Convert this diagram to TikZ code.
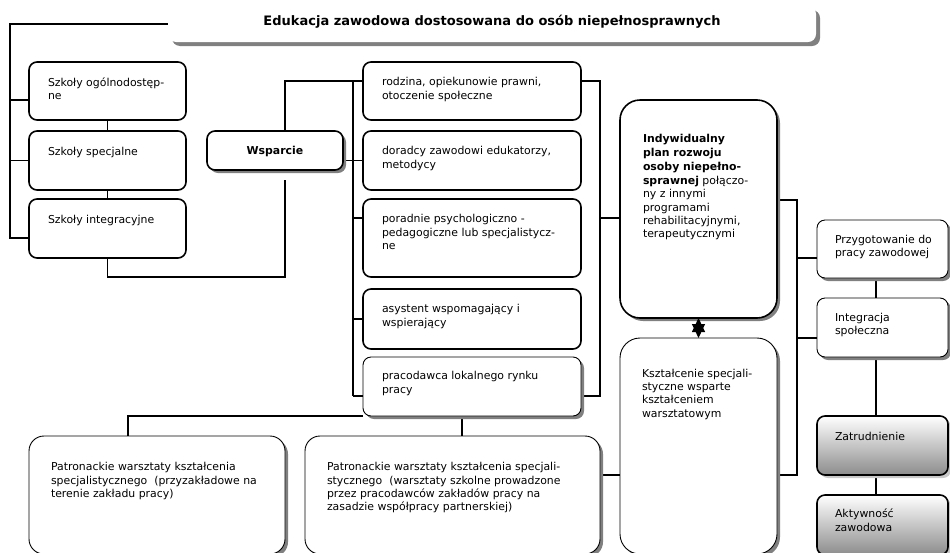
\documentclass[tikz,border=0pt]{standalone}
\usepackage{fontspec}
\setmainfont{DejaVu Sans}
\usetikzlibrary{shadows,calc,arrows.meta}
\pgfdeclarelayer{bg}
\pgfsetlayers{bg,main}
\definecolor{shd}{RGB}{128,128,128}
\definecolor{shdlight}{RGB}{200,200,200}
\definecolor{gradbot}{RGB}{140,140,140}
\tikzset{
  boxbase/.style={rectangle, inner sep=0pt, outer sep=0pt, fill=white, anchor=north west},
  thickbox/.style={boxbase, draw=black, line width=1.6pt, rounded corners=8pt},
  thinbox/.style={boxbase, draw=black, line width=0.9pt, rounded corners=#1,
    drop shadow={shadow xshift=3pt, shadow yshift=-3pt, fill=shd, opacity=1}},
  thinbox/.default=8pt,
  thickshbox/.style={boxbase, draw=black, line width=1.6pt, rounded corners=#1,
    drop shadow={shadow xshift=3pt, shadow yshift=-3pt, fill=shd, opacity=1}},
  thickshbox/.default=8pt,
  gradbox/.style={boxbase, draw=black, line width=1.6pt, rounded corners=8pt,
    top color=white, bottom color=gradbot,
    drop shadow={shadow xshift=3pt, shadow yshift=-3pt, fill=shdlight, opacity=1}},
  titlebox/.style={boxbase, draw=none, rounded corners=8pt,
    drop shadow={shadow xshift=4pt, shadow yshift=-4pt, fill=shd, opacity=1}},
  txt/.style={inner sep=0pt, outer sep=0pt, align=left, anchor=north west, yshift=-2.5pt,
    font=\fontsize{10.9}{13.3}\selectfont, execute at begin node=\strut},
  conn/.style={draw=black, line width=1.3pt},
  startip/.style={draw=black, line width=1pt,
    {Triangle[length=14pt,width=13pt]}-{Triangle[length=14pt,width=13pt]}},
}
\begin{document}
\begin{tikzpicture}[x=1pt,y=-1pt]
\useasboundingbox (0,0) rectangle (950,552);

% title
\node[titlebox, minimum width=648, minimum height=36] (title) at (168,6) {};
\node[inner sep=0pt, anchor=base, font=\fontsize{13}{15}\selectfont\bfseries] (titlet) at (492,25)
  {Edukacja zawodowa dostosowana do osób niepełnosprawnych};

% left column
\node[thickbox, minimum width=157, minimum height=58] (b1) at (29,62) {};
\node[thickbox, minimum width=157, minimum height=59] (b2) at (29,131) {};
\node[thickbox, minimum width=157, minimum height=59] (b3) at (29,199) {};
\node[txt] (b1t) at ($(b1.north west)+(19,13)$) {Szkoły ogólnodostęp-\\ne};
\node[txt] (b2t) at ($(b2.north west)+(19,13)$) {Szkoły specjalne};
\node[txt] (b3t) at ($(b3.north west)+(19,13)$) {Szkoły integracyjne};

% Wsparcie
\node[thickshbox, minimum width=136, minimum height=39] (wsp) at (207,131) {};
\node[inner sep=0pt, anchor=base, font=\fontsize{10.9}{13.3}\selectfont\bfseries] (wspt)
  at ($(wsp.center)+(0,3.5)$) {Wsparcie};

% middle column
\node[thickbox, minimum width=218, minimum height=58] (m1) at (363,62) {};
\node[thickbox, minimum width=218, minimum height=59] (m2) at (363,131) {};
\node[thickbox, minimum width=218, minimum height=78] (m3) at (363,199) {};
\node[thickbox, minimum width=218, minimum height=60] (m4) at (363,289) {};
\node[thinbox, minimum width=218, minimum height=59] (m5) at (363,357) {};
\node[txt] (m1t) at ($(m1.north west)+(19,13)$) {rodzina, opiekunowie prawni,\\otoczenie społeczne};
\node[txt] (m2t) at ($(m2.north west)+(19,13)$) {doradcy zawodowi edukatorzy,\\metodycy};
\node[txt] (m3t) at ($(m3.north west)+(19,13)$) {poradnie psychologiczno -\\pedagogiczne lub specjalistycz-\\ne};
\node[txt] (m4t) at ($(m4.north west)+(19,13)$) {asystent wspomagający i\\wspierający};
\node[txt] (m5t) at ($(m5.north west)+(19,12)$) {pracodawca lokalnego rynku\\pracy};

% central big boxes
\node[thickshbox=20pt, minimum width=157, minimum height=218] (indyw) at (620,100) {};
\node[thinbox=20pt, minimum width=157, minimum height=216] (kszt) at (620,338) {};
\node[txt] (indywt) at ($(indyw.north west)+(23,31.5)$)
  {\textbf{Indywidualny}\\[0.8pt]\textbf{plan rozwoju}\\[0.8pt]\textbf{osoby niepełno-}\\[0.8pt]\textbf{sprawnej} połączo-\\ny z innymi\\programami\\rehabilitacyjnymi,\\terapeutycznymi};
\node[txt] (ksztt) at ($(kszt.north west)+(22,28.5)$)
  {Kształcenie specjali-\\styczne wsparte\\kształceniem\\warsztatowym};

% bottom boxes
\node[thinbox=15pt, minimum width=256, minimum height=118] (pat1) at (29,436) {};
\node[thinbox=15pt, minimum width=295, minimum height=118] (pat2) at (305,436) {};
\node[txt] (pat1t) at ($(pat1.north west)+(22,24)$)
  {Patronackie warsztaty kształcenia\\specjalistycznego\ \ (przyzakładowe na\\terenie zakładu pracy)};
\node[txt] (pat2t) at ($(pat2.north west)+(22,24)$)
  {Patronackie warsztaty kształcenia specjali-\\stycznego\ \ (warsztaty szkolne prowadzone\\przez pracodawców zakładów pracy na\\zasadzie współpracy partnerskiej)};

% right column
\node[thinbox, minimum width=131, minimum height=58] (r1) at (817,220) {};
\node[thinbox, minimum width=131, minimum height=59] (r2) at (817,298) {};
\node[gradbox, minimum width=131, minimum height=59] (r3) at (817,416) {};
\node[gradbox, minimum width=131, minimum height=60] (r4) at (817,495) {};
\node[txt] (r1t) at ($(r1.north west)+(18,12.5)$) {Przygotowanie do\\pracy zawodowej};
\node[txt] (r2t) at ($(r2.north west)+(18,12.5)$) {Integracja\\społeczna};
\node[txt] (r3t) at ($(r3.north west)+(18,12.5)$) {Zatrudnienie};
\node[txt] (r4t) at ($(r4.north west)+(18,11.5)$) {Aktywność\\zawodowa};

% link between the two central boxes
\draw[startip] (indyw.south) -- (kszt.north);

\begin{pgfonlayer}{bg}
  % left bus from the title
  \draw[conn] (title.west) -| ($(b3.north west)+(-19,39)$) -- ($(b3.north west)+(0,39)$);
  \draw[conn] ($(b1.north west)+(-19,38)$) -- ($(b1.north west)+(0,38)$);
  \draw[conn] (b2.west) -- ++(-19,0);
  \draw[conn] (b1.south) -- (b2.north);
  \draw[conn] (b2.south) -- (b3.north);
  \coordinate (wspfoot) at ($(wsp.south west)+(78,10)$);
  \draw[conn] (b3.south) -- ++(0,19) -| (wspfoot);
  % Wsparcie to support boxes
  \draw[conn] ($(wsp.north west)+(78,0)$) |- ($(m1.north west)+(0,19)$);
  \draw[conn] (m2.west) -- (m2.west -| wsp.east);
  \draw[conn] ($(m1.north west)+(-10,19)$) -- ($(m5.north west)+(-10,39)$);
  \draw[conn] ($(m3.north west)+(0,19)$) -- ++(-10,0);
  \draw[conn] (m4.west) -- ++(-10,0);
  \draw[conn] ($(m5.north west)+(0,39)$) -- ++(-10,0);
  % right bus of support boxes
  \draw[conn] ($(m1.north east)+(0,19)$) -| ($(m5.north east)+(19,39)$) -- ($(m5.north east)+(0,39)$);
  \draw[conn] ($(indyw.north west)+(-20,118)$) -- ($(indyw.north west)+(0,118)$);
  % employer to workshops
  \draw[conn] (m5.south west) -| ($(pat1.north west)+(99,0)$);
  \draw[conn] ($(m5.south west)+(99,0)$) -- ($(pat2.north west)+(157,0)$);
  \draw[conn] ($(pat2.north east)+(0,39)$) -- ($(kszt.north west)+(0,137)$);
  % right side
  \draw[conn] ($(kszt.north east)+(0,137)$) -| ($(indyw.north east)+(20,100)$) -- ($(indyw.north east)+(0,100)$);
  \draw[conn] ($(r1.north west)+(0,38)$) -- ++(-20,0);
  \draw[conn] ($(r2.north west)+(0,40)$) -- ++(-20,0);
  \draw[conn] ($(r1.south west)+(59,0)$) -- ($(r2.north west)+(59,0)$);
  \draw[conn] ($(r2.south west)+(59,0)$) -- ($(r3.north west)+(59,0)$);
  \draw[conn] ($(r3.south west)+(59,0)$) -- ($(r4.north west)+(59,0)$);
\end{pgfonlayer}
\end{tikzpicture}
\end{document}
